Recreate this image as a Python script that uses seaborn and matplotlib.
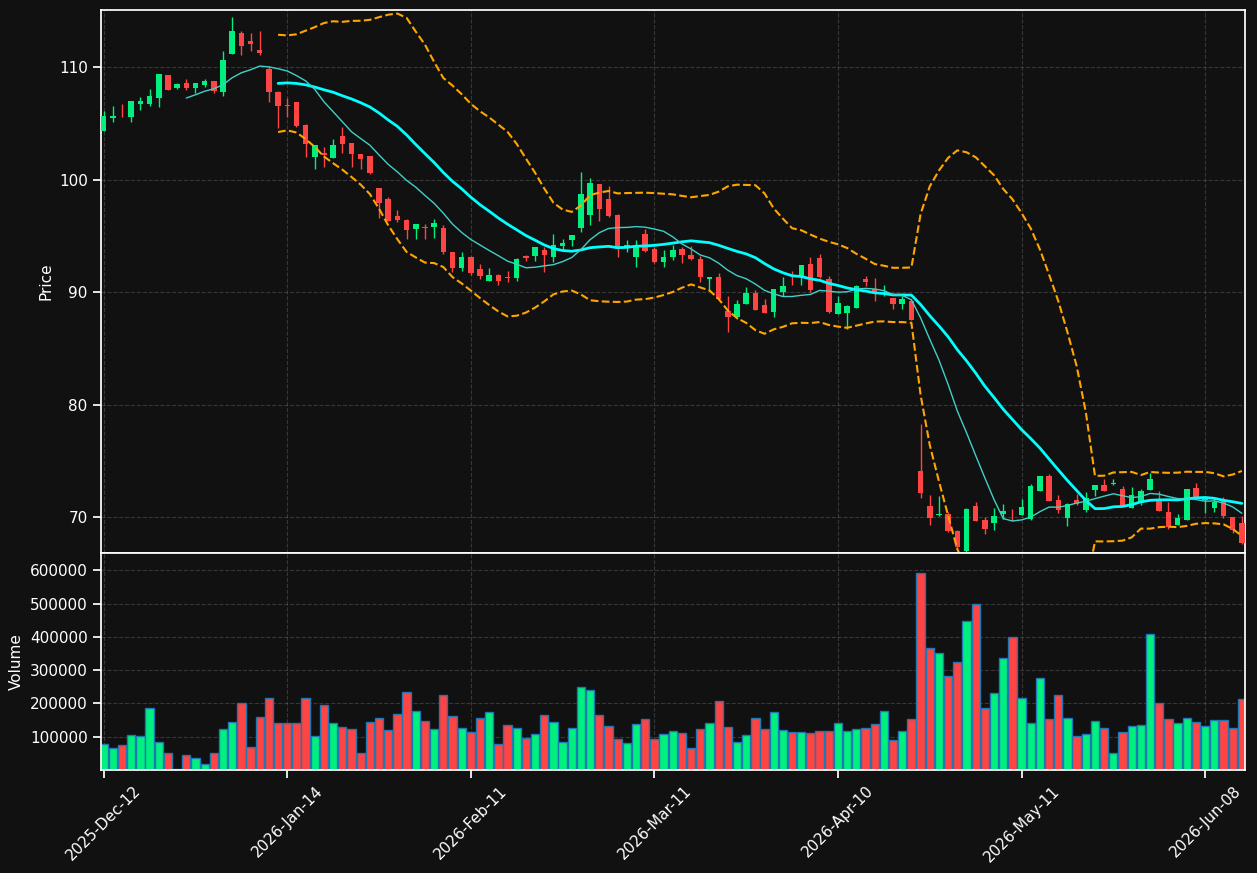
import numpy as np
import pandas as pd
import seaborn as sns
import matplotlib.pyplot as plt

# OHLC (one row per trading day)
opens = [104.37, 105.46, 105.78, 105.55, 106.70, 106.76, 107.29, 109.32, 108.17, 108.61,
         108.17, 108.44, 108.79, 107.82, 111.18, 113.04, 112.33, 111.53, 109.85, 107.82,
         106.68, 106.93, 104.85, 102.02, 102.38, 101.93, 103.87, 103.24, 102.26, 102.08,
         99.29, 98.33, 96.73, 96.46, 95.65, 95.78, 95.83, 95.74, 93.57, 92.11,
         93.15, 92.02, 91.01, 91.55, 91.30, 91.22, 93.24, 93.24, 93.78, 93.15,
         94.14, 94.67, 95.68, 96.90, 99.58, 98.33, 96.90, 94.10, 93.15, 95.21,
         93.81, 92.71, 93.15, 93.84, 93.33, 92.98, 91.19, 91.34, 88.36, 87.80,
         88.96, 89.91, 88.84, 88.24, 90.00, 91.50, 91.34, 92.50, 93.04, 91.13,
         88.07, 88.15, 88.60, 91.16, 90.30, 89.90, 89.46, 88.90, 89.20, 74.11,
         70.98, 70.15, 70.24, 68.72, 67.00, 70.98, 69.76, 69.50, 70.30, 70.10,
         70.21, 69.85, 72.29, 73.63, 71.49, 69.91, 71.46, 70.60, 72.38, 72.83,
         72.93, 72.44, 70.80, 71.25, 72.38, 71.40, 70.42, 69.26, 69.76, 72.53,
         71.50, 70.80, 71.49, 69.97, 69.46]
highs = [106.14, 106.55, 106.73, 107.02, 107.37, 108.05, 109.41, 109.32, 108.60, 108.94,
         108.65, 108.97, 108.80, 111.42, 114.45, 113.27, 113.04, 113.22, 110.12, 107.90,
         107.25, 106.95, 105.00, 103.07, 102.92, 103.66, 104.70, 103.30, 102.30, 102.10,
         99.30, 98.45, 97.32, 96.50, 96.10, 96.07, 96.55, 95.98, 93.60, 93.60,
         93.20, 92.50, 92.14, 91.60, 91.90, 93.07, 93.30, 94.05, 93.99, 95.18,
         94.73, 95.12, 100.68, 100.18, 99.60, 99.40, 96.95, 94.64, 94.64, 95.63,
         93.99, 93.75, 94.20, 94.02, 94.08, 93.21, 91.34, 91.73, 89.64, 89.29,
         90.45, 90.15, 89.43, 90.27, 91.34, 91.88, 92.41, 93.13, 93.36, 91.43,
         89.64, 88.84, 90.60, 91.43, 91.22, 90.60, 89.50, 89.64, 89.35, 78.27,
         71.93, 71.85, 70.45, 68.80, 70.75, 71.34, 70.00, 70.80, 71.13, 70.68,
         71.57, 72.92, 73.66, 73.78, 71.99, 71.25, 72.05, 72.20, 72.83, 73.33,
         73.33, 72.74, 72.65, 72.44, 73.87, 72.29, 71.31, 70.30, 72.44, 72.98,
         71.55, 71.70, 71.76, 70.00, 70.06]
lows = [104.30, 105.13, 105.60, 105.13, 106.20, 106.52, 106.43, 107.99, 108.10, 108.02,
        107.70, 108.29, 107.73, 107.49, 111.18, 111.06, 111.47, 111.06, 106.90, 104.60,
        105.55, 104.70, 102.02, 100.98, 101.13, 101.93, 102.38, 101.13, 100.98, 100.48,
        96.61, 96.30, 96.22, 94.70, 94.70, 94.70, 94.82, 93.39, 91.76, 91.90,
        91.52, 91.16, 90.95, 90.63, 90.86, 91.01, 92.74, 92.74, 91.76, 92.65,
        93.78, 94.08, 95.33, 96.01, 96.31, 96.70, 93.10, 93.54, 92.20, 93.54,
        92.59, 92.26, 92.83, 92.62, 92.89, 90.92, 90.09, 89.40, 86.43, 87.65,
        88.96, 88.40, 88.10, 87.83, 89.67, 90.60, 90.60, 90.00, 91.30, 88.10,
        88.07, 86.76, 88.60, 90.54, 89.20, 89.64, 88.54, 88.54, 87.50, 71.64,
        69.26, 70.09, 68.70, 67.20, 66.90, 69.60, 68.51, 68.80, 69.85, 69.61,
        70.20, 69.70, 72.29, 71.40, 70.36, 69.23, 71.04, 70.42, 71.85, 72.29,
        72.80, 71.00, 70.80, 71.10, 72.38, 70.50, 68.93, 69.26, 69.70, 71.79,
        70.36, 70.45, 69.91, 68.57, 67.60]
closes = [105.69, 105.69, 105.72, 107.02, 107.02, 107.46, 109.41, 107.99, 108.53, 108.17,
          108.61, 108.82, 107.91, 110.65, 113.22, 111.89, 112.06, 111.27, 107.82, 106.52,
          106.60, 104.76, 103.18, 103.07, 102.17, 103.07, 103.18, 102.29, 101.82, 100.60,
          97.92, 96.37, 96.46, 95.57, 96.10, 95.70, 96.19, 93.54, 92.11, 93.15,
          91.67, 91.46, 91.55, 90.95, 91.25, 92.98, 93.00, 94.05, 93.33, 94.20,
          94.40, 95.12, 98.69, 99.67, 97.44, 96.73, 93.81, 94.20, 94.05, 93.69,
          92.71, 93.15, 93.75, 93.33, 92.98, 91.37, 91.34, 89.40, 87.77, 88.90,
          89.91, 88.42, 88.15, 90.27, 90.54, 91.40, 92.41, 90.18, 91.34, 88.24,
          89.02, 88.75, 90.54, 90.92, 89.94, 90.00, 88.90, 89.38, 87.50, 72.17,
          69.94, 70.30, 68.78, 67.32, 70.71, 69.67, 68.96, 70.09, 70.54, 70.06,
          70.89, 72.77, 73.66, 71.40, 70.60, 71.16, 71.16, 71.70, 72.83, 72.29,
          73.00, 71.04, 71.99, 72.29, 73.39, 70.50, 69.11, 69.88, 72.44, 71.79,
          71.55, 71.31, 70.06, 68.87, 67.68]
volumes = [79000, 67000, 76000, 106000, 101000, 185000, 85000, 50000, 4000, 44000,
           37000, 17000, 50000, 122000, 143000, 200000, 68000, 158000, 215000, 140000,
           140000, 140000, 215000, 101000, 196000, 140000, 128000, 122000, 50000, 143000,
           155000, 119000, 167000, 236000, 176000, 146000, 122000, 227000, 161000, 125000,
           113000, 155000, 175000, 77000, 134000, 125000, 95000, 107000, 164000, 143000,
           83000, 125000, 251000, 242000, 164000, 131000, 92000, 80000, 137000, 152000,
           92000, 107000, 116000, 110000, 65000, 122000, 140000, 206000, 128000, 83000,
           104000, 155000, 122000, 173000, 119000, 113000, 113000, 110000, 116000, 116000,
           140000, 116000, 122000, 125000, 137000, 176000, 89000, 116000, 152000, 591000,
           366000, 351000, 282000, 324000, 447000, 498000, 185000, 233000, 336000, 399000,
           215000, 140000, 276000, 152000, 227000, 155000, 101000, 107000, 146000, 125000,
           50000, 113000, 131000, 134000, 408000, 200000, 152000, 140000, 155000, 143000,
           131000, 149000, 149000, 125000, 212000]

tick_pos = [0, 20, 40, 60, 80, 100, 120]
tick_labels = ['2025-Dec-12', '2026-Jan-14', '2026-Feb-11', '2026-Mar-11',
               '2026-Apr-10', '2026-May-11', '2026-Jun-08']

df = pd.DataFrame({'open': opens, 'high': highs, 'low': lows,
                   'close': closes, 'volume': volumes})
df['x'] = np.arange(len(df))
df['sma20'] = df['close'].rolling(20).mean()
df['sma10'] = df['close'].rolling(10).mean()
std20 = df['close'].rolling(20).std(ddof=0)
df['upper'] = df['sma20'] + 2 * std20
df['lower'] = df['sma20'] - 2 * std20

up = df['close'] >= df['open']
green, red = '#00f080', '#ff4444'
colors = np.where(up, green, red)

sns.set_theme(context='notebook', style='dark', rc={
    'axes.facecolor': '#111111', 'figure.facecolor': '#111111',
    'axes.edgecolor': 'white', 'text.color': 'white',
    'xtick.color': 'white', 'ytick.color': 'white',
    'axes.labelcolor': 'white', 'xtick.bottom': True, 'ytick.left': True,
    'axes.labelsize': 11,
})

fig, (ax, axv) = plt.subplots(2, 1, figsize=(12.57, 8.73), dpi=100, sharex=True,
                              gridspec_kw={'height_ratios': [2.5, 1]})
fig.subplots_adjust(left=0.0803, right=0.9905, top=0.9885, bottom=0.118, hspace=0)

# candles
ax.vlines(df['x'], df['low'], df['high'], colors=colors, linewidth=1, zorder=2)
body = (df['close'] - df['open']).abs().clip(lower=0.06)
ax.bar(df['x'], body, bottom=df[['open', 'close']].min(axis=1), width=0.6,
       color=colors, linewidth=0, zorder=3)

# indicators
sns.lineplot(data=df, x='x', y='sma20', ax=ax, color='#00ffff', linewidth=2, zorder=4)
sns.lineplot(data=df, x='x', y='sma10', ax=ax, color='#40d0c8', linewidth=1, zorder=4)
sns.lineplot(data=df, x='x', y='upper', ax=ax, color='orange', linewidth=1.5,
             linestyle='--', zorder=4)
sns.lineplot(data=df, x='x', y='lower', ax=ax, color='orange', linewidth=1.5,
             linestyle='--', zorder=4)

ax.set_ylim(66.8, 115.1)
ax.set_ylabel('Price')
ax.set_xlabel('')
ax.tick_params(axis='x', bottom=False)
ax.grid(True, linestyle='--', color='gray', alpha=0.35, linewidth=0.8)

# volume
axv.bar(df['x'], df['volume'], width=0.9, color=colors, edgecolor='#1f77b4', linewidth=1)
axv.set_ylim(0, 653000)
axv.set_yticks([100000, 200000, 300000, 400000, 500000, 600000])
axv.ticklabel_format(style='plain', axis='y')
axv.set_ylabel('Volume')
axv.grid(True, linestyle='--', color='gray', alpha=0.35, linewidth=0.8)

axv.set_xlim(-0.3, 124.35)
axv.set_xticks(tick_pos)
axv.set_xticklabels(tick_labels, rotation=45)

for a in (ax, axv):
    for s in a.spines.values():
        s.set_color('white')
        s.set_visible(True)

plt.savefig('out.png', dpi=100, facecolor=fig.get_facecolor())
